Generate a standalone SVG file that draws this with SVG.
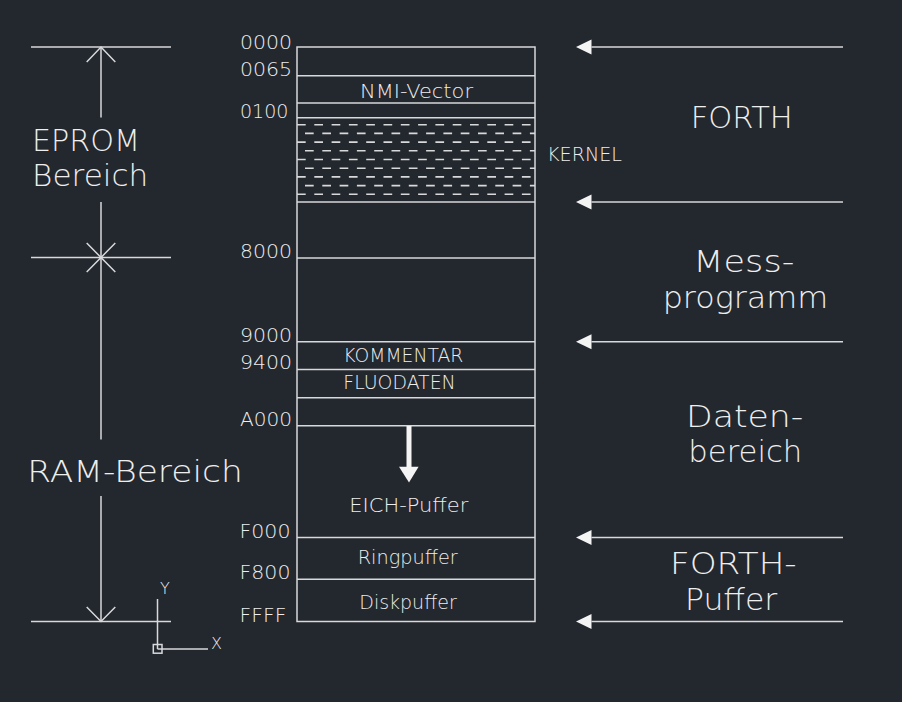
<svg xmlns="http://www.w3.org/2000/svg" width="902" height="702" viewBox="0 0 902 702">
<style>
.ln{stroke:#d8d9db;stroke-width:1.5;fill:none}
.ht{stroke:#d8d9db;stroke-width:1.6;fill:none;stroke-dasharray:8.7 8.6}
.t{font-family:"DejaVu Sans","Liberation Sans",sans-serif;font-weight:200;fill:#eeeeee}
.s{font-size:20px}
.b{font-size:31px}
.u{font-size:16px}
.ah{fill:#f4f4f4;stroke:none}
</style>
<defs>
<marker id="tri" viewBox="0 0 16 16" refX="0" refY="8" markerWidth="16" markerHeight="16" markerUnits="userSpaceOnUse" orient="auto-start-reverse">
<path d="M0,0.5 L15.5,8 L0,15.5 Z" class="ah"/>
</marker>
</defs>
<rect x="0" y="0" width="902" height="702" fill="#23272e"/>

<g id="memory-map">
<rect class="ln" x="297" y="47" width="238" height="574.5"/>
<g id="seg-0000"><line class="ln" x1="297" y1="75.7" x2="535" y2="75.7"/></g>
<g id="seg-nmi">
<line class="ln" x1="297" y1="103" x2="535" y2="103"/>
<text class="t s" x="360" y="98.3" textLength="113" lengthAdjust="spacingAndGlyphs">NMI-Vector</text>
</g>
<g id="seg-kernel">
<line class="ln" x1="297" y1="117.7" x2="535" y2="117.7"/>
<line class="ht" x1="297" y1="124.7" x2="535" y2="124.7"/>
<line class="ht" x1="305" y1="133.4" x2="535" y2="133.4"/>
<line class="ht" x1="297" y1="142.1" x2="535" y2="142.1"/>
<line class="ht" x1="305" y1="150.8" x2="535" y2="150.8"/>
<line class="ht" x1="297" y1="159.5" x2="535" y2="159.5"/>
<line class="ht" x1="305" y1="168.2" x2="535" y2="168.2"/>
<line class="ht" x1="297" y1="176.9" x2="535" y2="176.9"/>
<line class="ht" x1="305" y1="185.6" x2="535" y2="185.6"/>
<line class="ht" x1="297" y1="194.3" x2="535" y2="194.3"/>
<line class="ln" x1="297" y1="202" x2="535" y2="202"/>
<text class="t s" x="547" y="160.7" textLength="75" lengthAdjust="spacingAndGlyphs">KERNEL</text>
</g>
<g id="seg-8000"><line class="ln" x1="297" y1="258" x2="535" y2="258"/></g>
<g id="seg-9000"><line class="ln" x1="297" y1="341.7" x2="535" y2="341.7"/></g>
<g id="seg-kommentar">
<line class="ln" x1="297" y1="369.5" x2="535" y2="369.5"/>
<text class="t s" x="343.3" y="361.7" textLength="120" lengthAdjust="spacingAndGlyphs">KOMMENTAR</text>
</g>
<g id="seg-fluodaten">
<line class="ln" x1="297" y1="397.7" x2="535" y2="397.7"/>
<text class="t s" x="343.3" y="389.3" textLength="112.4" lengthAdjust="spacingAndGlyphs">FLUODATEN</text>
</g>
<g id="seg-a000"><line class="ln" x1="297" y1="425.7" x2="535" y2="425.7"/></g>
<g id="seg-eich">
<rect class="ah" x="406.5" y="426" width="5" height="41.5"/>
<polygon class="ah" points="399,466.7 418.6,466.7 409,482.5"/>
<text class="t s" x="349.3" y="511.7" textLength="119" lengthAdjust="spacingAndGlyphs">EICH-Puffer</text>
</g>
<g id="seg-ring">
<line class="ln" x1="297" y1="537.5" x2="535" y2="537.5"/>
<text class="t s" x="357.7" y="564" textLength="100" lengthAdjust="spacingAndGlyphs">Ringpuffer</text>
</g>
<g id="seg-disk">
<line class="ln" x1="297" y1="579.3" x2="535" y2="579.3"/>
<text class="t s" x="359.3" y="609" textLength="97.4" lengthAdjust="spacingAndGlyphs">Diskpuffer</text>
</g>
</g>

<g id="addresses">
<text class="t s" x="240" y="49" textLength="52" lengthAdjust="spacingAndGlyphs">0000</text>
<text class="t s" x="240" y="76" textLength="52" lengthAdjust="spacingAndGlyphs">0065</text>
<text class="t s" x="240" y="118" textLength="48.5" lengthAdjust="spacingAndGlyphs">0100</text>
<text class="t s" x="240" y="258" textLength="52" lengthAdjust="spacingAndGlyphs">8000</text>
<text class="t s" x="240" y="342" textLength="52" lengthAdjust="spacingAndGlyphs">9000</text>
<text class="t s" x="240" y="369" textLength="52" lengthAdjust="spacingAndGlyphs">9400</text>
<text class="t s" x="240" y="425.5" textLength="52" lengthAdjust="spacingAndGlyphs">A000</text>
<text class="t s" x="239.5" y="538.3" textLength="51" lengthAdjust="spacingAndGlyphs">F000</text>
<text class="t s" x="239.5" y="579.3" textLength="51" lengthAdjust="spacingAndGlyphs">F800</text>
<text class="t s" x="239.5" y="621.5" textLength="47" lengthAdjust="spacingAndGlyphs">FFFF</text>
</g>

<g id="dimension">
<line class="ln" x1="31" y1="47" x2="171" y2="47"/>
<line class="ln" x1="31" y1="257.5" x2="171" y2="257.5"/>
<line class="ln" x1="31" y1="621.5" x2="171" y2="621.5"/>
<line class="ln" x1="101" y1="47" x2="101" y2="117.5"/>
<line class="ln" x1="101" y1="202" x2="101" y2="439.5"/>
<line class="ln" x1="101" y1="496" x2="101" y2="621.5"/>
<path class="ln" d="M86.7,62 L101,47 L115.3,62"/>
<path class="ln" d="M86.7,243 L115.3,272 M115.3,243 L86.7,272"/>
<path class="ln" d="M86.7,607 L101,621.5 L115.3,607"/>
<text class="t b" x="32" y="150.7" textLength="108" lengthAdjust="spacingAndGlyphs">EPROM</text>
<text class="t b" x="32" y="186" textLength="116.3" lengthAdjust="spacingAndGlyphs">Bereich</text>
<text class="t b" x="27.3" y="482.3" textLength="215.4" lengthAdjust="spacingAndGlyphs">RAM-Bereich</text>
</g>

<g id="ucs">
<line class="ln" x1="157.5" y1="599" x2="157.5" y2="649"/>
<line class="ln" x1="157.5" y1="649" x2="208" y2="649"/>
<rect class="ln" x="153.3" y="644.5" width="8.7" height="8.7"/>
<text class="t u" x="160" y="594">Y</text>
<text class="t u" x="211" y="648.5">X</text>
</g>

<g id="connectors">
<line class="ln" x1="843" y1="47" x2="591.5" y2="47" marker-end="url(#tri)"/>
<line class="ln" x1="843" y1="202" x2="591.5" y2="202" marker-end="url(#tri)"/>
<line class="ln" x1="843" y1="341.7" x2="591.5" y2="341.7" marker-end="url(#tri)"/>
<line class="ln" x1="843" y1="537.5" x2="591.5" y2="537.5" marker-end="url(#tri)"/>
<line class="ln" x1="843" y1="621.5" x2="591.5" y2="621.5" marker-end="url(#tri)"/>
</g>

<g id="regions">
<text class="t b" x="690.7" y="128.3" textLength="102" lengthAdjust="spacingAndGlyphs">FORTH</text>
<text class="t b" x="693.3" y="271.7" textLength="101" lengthAdjust="spacingAndGlyphs">Mess-</text>
<text class="t b" x="662.7" y="308.3" textLength="165.6" lengthAdjust="spacingAndGlyphs">programm</text>
<text class="t b" x="686" y="426.7" textLength="117.3" lengthAdjust="spacingAndGlyphs">Daten-</text>
<text class="t b" x="688.3" y="461.7" textLength="114" lengthAdjust="spacingAndGlyphs">bereich</text>
<text class="t b" x="670" y="574.3" textLength="126.7" lengthAdjust="spacingAndGlyphs">FORTH-</text>
<text class="t b" x="685" y="610" textLength="92.3" lengthAdjust="spacingAndGlyphs">Puffer</text>
</g>
</svg>
